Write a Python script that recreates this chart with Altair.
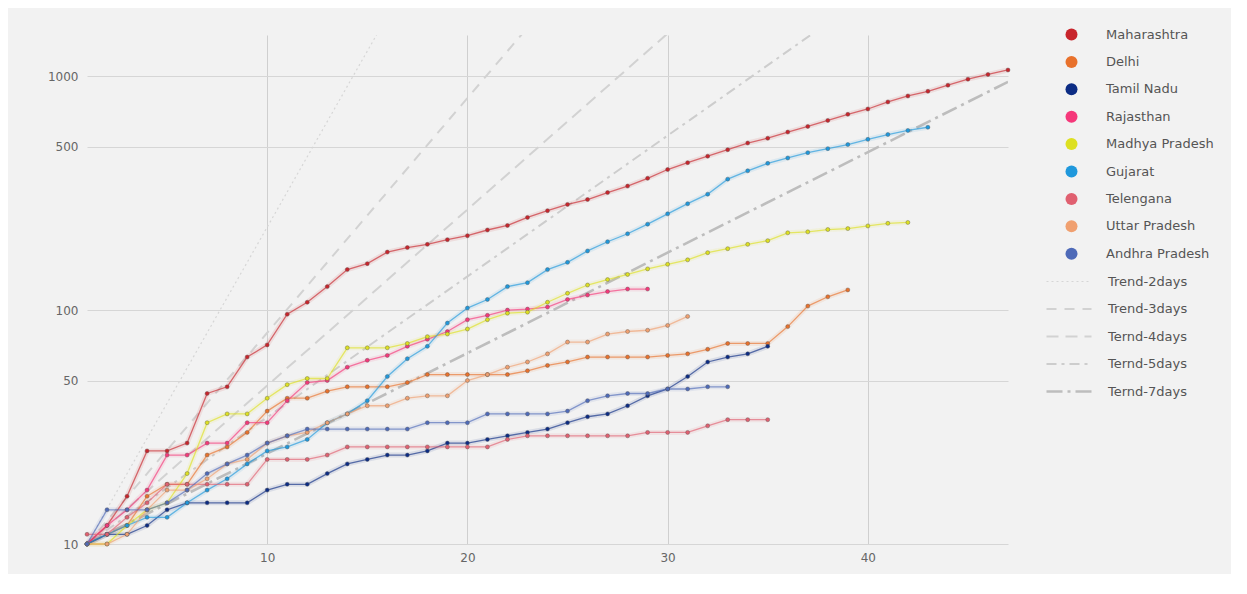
import altair as alt
import pandas as pd

# ---------------- data ----------------
states = ["Maharashtra", "Delhi", "Tamil Nadu", "Rajasthan", "Madhya Pradesh",
          "Gujarat", "Telengana", "Uttar Pradesh", "Andhra Pradesh"]
state_colors = ["#c8252c", "#e8712c", "#0c2c84", "#f5387a", "#dde021",
                "#1f98dc", "#e06070", "#f0a070", "#4e6ab8"]

maharashtra = [10, 12, 16, 25, 25, 27, 44, 47, 63, 71, 96, 108, 126, 149, 158, 177,
               185, 191, 200, 208, 220, 230, 249, 266, 283, 297, 318, 339, 366, 399,
               427, 455, 485, 518, 543, 577, 610, 647, 687, 724, 776, 823, 862, 915,
               971, 1017, 1063]
delhi = [10, 11, 12, 16, 18, 18, 24, 26, 30, 37, 42, 42, 45, 47, 47, 47, 49, 53, 53,
         53, 53, 53, 55, 58, 60, 63, 63, 63, 63, 64, 65, 68, 72, 72, 72, 85, 104, 114, 122]
tamil_nadu = [10, 11, 11, 12, 14, 15, 15, 15, 15, 17, 18, 18, 20, 22, 23, 24, 24, 25,
              27, 27, 28, 29, 30, 31, 33, 35, 36, 39, 43, 46, 52, 60, 63, 65, 70]
rajasthan = [10, 12, 14, 17, 24, 24, 27, 27, 33, 33, 41, 49, 50, 57, 61, 64, 70, 75,
             81, 91, 95, 100, 101, 103, 111, 116, 120, 123, 123]
madhya_pradesh = [10, 10, 12, 14, 15, 20, 33, 36, 36, 42, 48, 51, 51, 69, 69, 69, 72,
                  77, 79, 83, 91, 97, 98, 108, 118, 128, 135, 142, 150, 157, 164, 176,
                  183, 191, 198, 214, 216, 221, 223, 229, 235, 237]
gujarat = [10, 11, 12, 13, 13, 15, 17, 19, 22, 25, 26, 28, 33, 36, 41, 52, 62, 70, 88,
           102, 111, 126, 131, 149, 160, 179, 196, 212, 233, 258, 285, 313, 363, 394,
           424, 447, 471, 490, 510, 537, 563, 586, 605]
telengana = [11, 11, 13, 15, 18, 18, 18, 18, 18, 23, 23, 23, 24, 26, 26, 26, 26, 26,
             26, 26, 26, 28, 29, 29, 29, 29, 29, 29, 30, 30, 30, 32, 34, 34, 34]
uttar_pradesh = [10, 10, 11, 14, 17, 17, 19, 22, 23, 27, 29, 30, 33, 36, 39, 39, 42, 43,
                 43, 50, 53, 57, 60, 65, 73, 73, 79, 81, 82, 86, 94]
andhra_pradesh = [10, 14, 14, 14, 15, 17, 20, 22, 24, 27, 29, 31, 31, 31, 31, 31, 31,
                  33, 33, 33, 36, 36, 36, 36, 37, 41, 43, 44, 44, 46, 46, 47, 47]

series_values = [maharashtra, delhi, tamil_nadu, rajasthan, madhya_pradesh,
                 gujarat, telengana, uttar_pradesh, andhra_pradesh]

trend_names = ["Trend-2days", "Trend-3days", "Ternd-4days", "Ternd-5days", "Ternd-7days"]
trend_x_start = [1, 1, 1, 1, 1]
trend_y_start = [10, 10, 10, 10, 10]
trend_x_end = [17, 25, 33, 41, 47]
trend_y_end = [2560, 2560, 2560, 2560, 946]
trend_colors = ["#d6d6d6", "#d2d2d2", "#d2d2d2", "#cdcdcd", "#bdbdbd"]
trend_dashes = [[2, 3], [10, 8], [12, 7], [10, 5, 3, 5], [16, 5, 3, 5]]
trend_widths = [1.2, 2, 2, 2, 2.6]

x_ticks = [10, 20, 30, 40]
y_ticks = [10, 50, 100, 500, 1000]

# ---------------- tables ----------------
rows = []
for name, vals in zip(states, series_values):
    for i, v in enumerate(vals):
        rows.append({"state": name, "day": i + 1, "cases": v})
df = pd.DataFrame(rows)

trows = []
for n, xs, ys, xe, ye in zip(trend_names, trend_x_start, trend_y_start, trend_x_end, trend_y_end):
    trows.append({"trend": n, "day": xs, "cases": ys})
    trows.append({"trend": n, "day": xe, "cases": ye})
tdf = pd.DataFrame(trows)

FONT = "DejaVu Sans"
xscale = alt.Scale(domain=[1, 47], nice=False, zero=False)
yscale = alt.Scale(type="log", domain=[10, 1500], nice=False)
xenc = alt.X("day:Q", scale=xscale,
             axis=alt.Axis(values=x_ticks, title=None, grid=True, domain=False, ticks=False,
                           labelPadding=8, labelFontSize=12, labelColor="#666", labelFont=FONT,
                           gridColor="#cfcfcf", gridWidth=1))
yenc = alt.Y("cases:Q", scale=yscale,
             axis=alt.Axis(values=y_ticks, format="d", title=None, grid=True, domain=False,
                           ticks=False, labelPadding=9, labelFontSize=12, labelColor="#666",
                           labelFont=FONT, gridColor="#d6d6d6", gridWidth=1))

cscale = alt.Scale(domain=states, range=state_colors)


def state_legend():
    return alt.Legend(title=None, orient="none", legendX=978, legendY=-7,
                      symbolType="circle", symbolSize=144, symbolStrokeWidth=0,
                      symbolOpacity=1, labelOffset=28, rowPadding=13.4,
                      padding=0, labelFont=FONT, labelFontSize=13, labelColor="#555")


def trend_legend():
    return alt.Legend(title=None, orient="none", legendX=958, legendY=240,
                      symbolType="stroke", symbolSize=2025, clipHeight=13,
                      labelOffset=15, rowPadding=13.5, padding=0,
                      labelFont=FONT, labelFontSize=13, labelColor="#555")


halo = alt.Chart(df).mark_line(strokeWidth=5, opacity=0.1).encode(
    x=xenc, y=yenc, color=alt.Color("state:N", scale=cscale, legend=state_legend()),
    detail="state:N")
lines = alt.Chart(df).mark_line(strokeWidth=1.3, opacity=0.65).encode(
    x=xenc, y=yenc, color=alt.Color("state:N", scale=cscale, legend=state_legend()),
    detail="state:N")
points = alt.Chart(df).mark_circle(size=16, opacity=1, stroke="#555", strokeWidth=0.4).encode(
    x=xenc, y=yenc,
    color=alt.Color("state:N", scale=cscale, legend=state_legend()))
state_layer = alt.layer(halo, lines, points)

trend_layer = alt.Chart(tdf).mark_line(clip=True).encode(
    x=xenc, y=yenc,
    color=alt.Color("trend:N", scale=alt.Scale(domain=trend_names, range=trend_colors),
                    legend=trend_legend()),
    strokeDash=alt.StrokeDash("trend:N", scale=alt.Scale(domain=trend_names, range=trend_dashes),
                              legend=trend_legend()),
    strokeWidth=alt.StrokeWidth("trend:N", scale=alt.Scale(type="ordinal", domain=trend_names,
                                                           range=trend_widths),
                                legend=trend_legend()),
)

chart = alt.layer(trend_layer, state_layer).resolve_scale(
    color="independent", strokeDash="independent", strokeWidth="independent"
).properties(
    width=921, height=509,
    autosize=alt.AutoSizeParams(type="none"),
    padding={"left": 79, "top": 27, "right": 223, "bottom": 30},
    background="#f2f2f2",
).configure_view(stroke=None, fill="#f2f2f2")

chart.save("out.html", embed_options={"renderer": "svg", "actions": False})
